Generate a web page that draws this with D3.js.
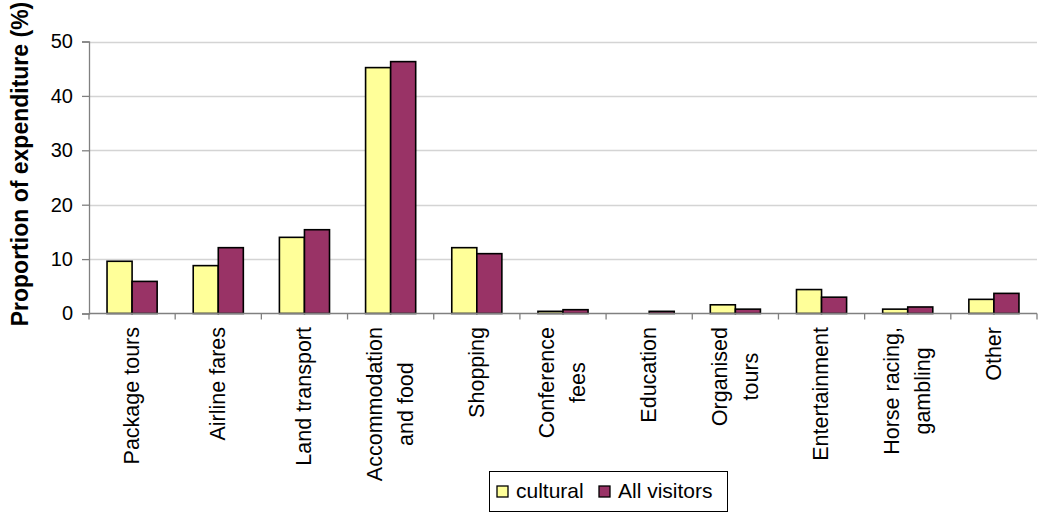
<!DOCTYPE html>
<html><head><meta charset="utf-8">
<script src="https://cdn.jsdelivr.net/npm/d3@7"></script>
<style>body{margin:0;background:#fff}svg{display:block;font-family:"Liberation Sans",Arial,sans-serif}</style>
</head><body><svg id="c" width="1039" height="513"></svg>
<script>
const categories = [["Package tours"],["Airline fares"],["Land transport"],["Accommodation","and food"],["Shopping"],["Conference","fees"],["Education"],["Organised","tours"],["Entertainment"],["Horse racing,","gambling"],["Other"]];
const seriesNames = ["cultural","All visitors"];
const cultural = [9.6, 8.8, 14.0, 45.2, 12.1, 0.4, 0, 1.6, 4.4, 0.8, 2.6];
const allVisitors = [5.9, 12.1, 15.4, 46.3, 11.0, 0.7, 0.4, 0.8, 3.0, 1.2, 3.7];
const yTicks = [0,10,20,30,40,50];
const colors = ["#FFFF99","#993366"];

(function(){
const svg = d3.select("#c");
const L=89, R=1037, T=41.5, B=313.5;
const x0 = d3.scaleBand().domain(d3.range(categories.length)).range([L,R]).padding(0);
const x1 = d3.scaleBand().domain([0,1]).range([0,x0.bandwidth()]).paddingInner(0).paddingOuter(0.72);
const y = d3.scaleLinear().domain([0,50]).range([B,T]);

// gridlines
svg.append("g").selectAll("line").data(yTicks.filter(d=>d>0)).join("line")
  .attr("x1",L).attr("x2",R).attr("y1",d=>Math.round(y(d))+0.5).attr("y2",d=>Math.round(y(d))+0.5)
  .attr("stroke","#d4d4d4").attr("stroke-width",1.3);

// bars
const data = [cultural, allVisitors];
const g = svg.append("g");
categories.forEach((c,i)=>{
  data.forEach((s,j)=>{
    if(s[i]<=0) return;
    g.append("rect").attr("x",x0(i)+x1(j)).attr("width",x1.bandwidth())
      .attr("y",y(s[i])).attr("height",y(0)-y(s[i]))
      .attr("fill",colors[j]).attr("stroke","#000").attr("stroke-width",1.6);
  });
});

// y axis
const ya = svg.append("g").attr("transform",`translate(${L},0)`)
  .call(d3.axisLeft(y).tickValues(yTicks).tickSize(7).tickPadding(9));
ya.select(".domain").attr("stroke","#808080").attr("stroke-width",1.3);
ya.selectAll(".tick line").attr("stroke","#808080").attr("stroke-width",1.3);
ya.selectAll(".tick text").attr("font-size",20).attr("fill","#000").attr("font-family","Liberation Sans, Arial, sans-serif");

// x axis
const xa = svg.append("g").attr("transform",`translate(0,${B})`);
xa.append("line").attr("x1",L).attr("x2",R).attr("stroke","#808080").attr("stroke-width",1.3);
xa.selectAll(".tk").data(d3.range(categories.length+1)).join("line").attr("class","tk")
  .attr("x1",d=>d<categories.length?x0(d):R).attr("x2",d=>d<categories.length?x0(d):R)
  .attr("y1",0).attr("y2",6).attr("stroke","#808080").attr("stroke-width",1.3);

// x labels
const fs=21.5, lh=31, labelTop=327;
categories.forEach((lines,i)=>{
  const cx = x0(i)+x0.bandwidth()/2;
  const t = svg.append("text").attr("font-size",fs).attr("text-anchor","middle").attr("fill","#000");
  const n = lines.length;
  lines.forEach((ln,k)=>{
    t.append("tspan").attr("x",0).attr("y",(k-(n-1)/2)*lh + fs*0.32).text(ln);
  });
  let maxLen = 0;
  t.selectAll("tspan").each(function(){maxLen=Math.max(maxLen,this.getComputedTextLength());});
  t.attr("transform",`translate(${cx},${labelTop+maxLen/2}) rotate(-90)`);
});

// y title
svg.append("text").attr("font-size",23).attr("font-weight","bold").attr("text-anchor","middle")
  .attr("transform","translate(28,164) rotate(-90)").text("Proportion of expenditure (%)");

// legend
const lg = svg.append("g");
lg.append("rect").attr("x",489.5).attr("y",471.5).attr("width",238).attr("height",40)
  .attr("fill","#fff").attr("stroke","#000").attr("stroke-width",1);
const items = [{x:497,tx:516},{x:599,tx:618}];
seriesNames.forEach((s,j)=>{
  lg.append("rect").attr("x",items[j].x).attr("y",486).attr("width",11).attr("height",11)
    .attr("fill",colors[j]).attr("stroke","#000").attr("stroke-width",1.3);
  lg.append("text").attr("x",items[j].tx).attr("y",497.5).attr("font-size",21).text(s);
});
})();
</script></body></html>
